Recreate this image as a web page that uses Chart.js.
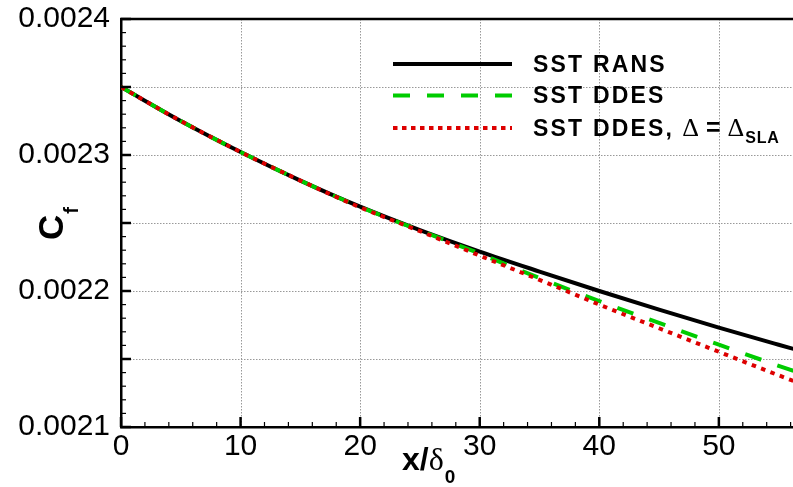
<!DOCTYPE html>
<html>
<head>
<meta charset="utf-8">
<script src="https://cdn.jsdelivr.net/npm/chart.js@4.4.1/dist/chart.umd.min.js"></script>
<style>
  html, body { margin: 0; padding: 0; background: #fff; }
  #wrap { width: 793px; height: 487px; position: relative; }
</style>
</head>
<body>
<div id="wrap"><canvas id="cfChart"></canvas></div>
<script>
// x/delta0 stations
const xPos = [0, 5, 10, 15, 20, 25, 30, 35, 40, 45, 50, 55, 56.5];
// skin friction
const sstRans = [0.002350, 0.0023250, 0.0023022, 0.0022812, 0.0022620, 0.0022448, 0.0022290, 0.0022143, 0.0022000, 0.0021863, 0.0021731, 0.0021605, 0.0021568];
const sstDdes = [0.002350, 0.0023250, 0.0023022, 0.0022812, 0.0022618, 0.0022445, 0.0022275, 0.0022095, 0.0021925, 0.0021765, 0.0021605, 0.0021450, 0.0021405];
const sstDdesSla = [0.002350, 0.0023250, 0.0023022, 0.0022812, 0.0022615, 0.0022440, 0.0022260, 0.0022082, 0.0021900, 0.0021726, 0.0021553, 0.0021380, 0.0021330];

const xMajor = [10, 20, 30, 40, 50];
const yMajor = [0.00215, 0.0022, 0.00225, 0.0023, 0.00235];

function toPoints(ys) {
  return xPos.map((x, i) => ({ x: x, y: ys[i] }));
}

// gridlines, inward ticks and the top frame line
const framePlugin = {
  id: "frame",
  beforeDatasetsDraw(chart) {
    const { ctx, chartArea: a, scales } = chart;
    ctx.save();
    ctx.strokeStyle = "#999999";
    ctx.lineWidth = 1;
    ctx.setLineDash([1.5, 1.5]);
    xMajor.forEach((v) => {
      const px = Math.round(scales.x.getPixelForValue(v)) + 0.5;
      ctx.beginPath();
      ctx.moveTo(px, a.top);
      ctx.lineTo(px, a.bottom);
      ctx.stroke();
    });
    yMajor.forEach((v) => {
      const py = Math.round(scales.y.getPixelForValue(v)) + 0.5;
      ctx.beginPath();
      ctx.moveTo(a.left, py);
      ctx.lineTo(a.right, py);
      ctx.stroke();
    });
    ctx.restore();
  },
  afterDraw(chart) {
    const { ctx, chartArea: a, scales } = chart;
    ctx.save();
    ctx.strokeStyle = "#000";
    ctx.setLineDash([]);
    // x ticks every 2, major every 10
    for (let i = 0; i <= 28; i++) {
      const v = i * 2;
      const px = scales.x.getPixelForValue(v);
      if (px > a.right) break;
      const major = i % 5 === 0;
      ctx.lineWidth = major ? 2.5 : 1.2;
      ctx.beginPath();
      ctx.moveTo(px, a.bottom);
      ctx.lineTo(px, a.bottom - (major ? 10 : 5));
      ctx.stroke();
    }
    // y ticks every 0.00001, major every 0.00005
    for (let i = 0; i <= 30; i++) {
      const v = 0.0021 + i * 0.00001;
      const py = scales.y.getPixelForValue(v);
      const major = i % 5 === 0;
      ctx.lineWidth = major ? 2.5 : 1.2;
      ctx.beginPath();
      ctx.moveTo(a.left, py);
      ctx.lineTo(a.left + (major ? 10 : 5), py);
      ctx.stroke();
    }
    ctx.lineWidth = 2.5;
    ctx.beginPath();
    ctx.moveTo(a.left - 1, a.top);
    ctx.lineTo(a.right, a.top);
    ctx.stroke();

    // axis titles
    ctx.fillStyle = "#000";
    ctx.textBaseline = "alphabetic";
    ctx.textAlign = "left";
    let x = 402;
    ctx.font = "bold 32px 'Liberation Sans'";
    ctx.fillText("x/", x, 470);
    x += ctx.measureText("x/").width;
    ctx.font = "32px 'Liberation Serif'";
    ctx.fillText("\u03b4", x, 470);
    x += ctx.measureText("\u03b4").width + 1;
    ctx.font = "bold 19px 'Liberation Sans'";
    ctx.fillText("0", x, 483);

    ctx.save();
    ctx.translate(63, 240);
    ctx.rotate(-Math.PI / 2);
    ctx.font = "bold 35px 'Liberation Sans'";
    ctx.fillText("C", 0, 0);
    const cw = ctx.measureText("C").width;
    ctx.font = "bold 20px 'Liberation Sans'";
    ctx.fillText("f", cw + 1, 15);
    ctx.restore();

    // legend
    const rows = [
      { y: 64, color: "#000", dash: [], width: 4 },
      { y: 95.5, color: "#00cc00", dash: [17, 17], width: 4 },
      { y: 128, color: "#dd0000", dash: [4.5, 4.5], width: 4 },
    ];
    rows.forEach((r) => {
      ctx.strokeStyle = r.color;
      ctx.lineWidth = r.width;
      ctx.setLineDash(r.dash);
      ctx.beginPath();
      ctx.moveTo(393, r.y);
      ctx.lineTo(512, r.y);
      ctx.stroke();
    });
    ctx.setLineDash([]);
    const legendFont = "bold 23px 'Liberation Sans'";
    const drawSpaced = (text, px, py, font, spacing) => {
      ctx.font = font;
      for (const ch of text) {
        ctx.fillText(ch, px, py);
        px += ctx.measureText(ch).width + spacing;
      }
      return px;
    };
    drawSpaced("SST RANS", 533, rows[0].y + 7.5, legendFont, 2.2);
    drawSpaced("SST DDES", 533, rows[1].y + 7.5, legendFont, 2.2);
    let lx = drawSpaced("SST DDES,", 533, rows[2].y + 7.5, legendFont, 2.2);
    lx += 8;
    lx = drawSpaced("\u0394", lx, rows[2].y + 7.5, "26px 'Liberation Serif'", 0);
    lx += 7;
    lx = drawSpaced("=", lx, rows[2].y + 7.5, "bold 25px 'Liberation Sans'", 0);
    lx += 7;
    lx = drawSpaced("\u0394", lx, rows[2].y + 7.5, "26px 'Liberation Serif'", 0);
    drawSpaced("SLA", lx + 1, rows[2].y + 15, "bold 16px 'Liberation Sans'", 0.8);
    ctx.restore();
  },
};

document.addEventListener("DOMContentLoaded", function () {
  const ctx = document.getElementById("cfChart").getContext("2d");
  new Chart(ctx, {
    type: "line",
    data: {
      datasets: [
        {
          label: "SST RANS",
          data: toPoints(sstRans),
          borderColor: "#000",
          borderWidth: 4,
          order: 3,
        },
        {
          label: "SST DDES",
          data: toPoints(sstDdes),
          borderColor: "#00cc00",
          borderWidth: 4,
          borderDash: [17, 17],
          order: 2,
        },
        {
          label: "SST DDES, \u0394 = \u0394SLA",
          data: toPoints(sstDdesSla),
          borderColor: "#dd0000",
          borderWidth: 4,
          borderDash: [4.5, 5.5],
          order: 1,
        },
      ],
    },
    options: {
      responsive: true,
      maintainAspectRatio: false,
      animation: false,
      events: [],
      layout: { padding: { top: 19, right: 0, left: 0, bottom: 0 } },
      elements: {
        point: { radius: 0 },
        line: { cubicInterpolationMode: "monotone", borderCapStyle: "butt" },
      },
      plugins: {
        legend: { display: false },
        tooltip: { enabled: false },
      },
      scales: {
        x: {
          type: "linear",
          min: 0,
          max: 56.2,
          afterFit(scale) {
            scale.height = 60;
            scale.paddingLeft = 0;
            scale.paddingRight = 0;
          },
          grid: { display: false, drawTicks: false },
          border: { display: true, color: "#000", width: 2.5 },
          ticks: {
            stepSize: 10,
            includeBounds: false,
            maxRotation: 0,
            padding: 2,
            color: "#000",
            font: { family: "'Liberation Sans'", size: 30 },
          },
        },
        y: {
          min: 0.0021,
          max: 0.0024,
          afterFit(scale) {
            scale.width = 121;
            scale.paddingTop = 0;
            scale.paddingBottom = 0;
          },
          grid: { display: false, drawTicks: false },
          border: { display: true, color: "#000", width: 2.5 },
          ticks: {
            stepSize: 0.0001,
            padding: 11,
            color: "#000",
            font: { family: "'Liberation Sans'", size: 30 },
            callback: (v) => v.toFixed(4),
          },
        },
      },
    },
    plugins: [framePlugin],
  });
});
</script>
</body>
</html>
